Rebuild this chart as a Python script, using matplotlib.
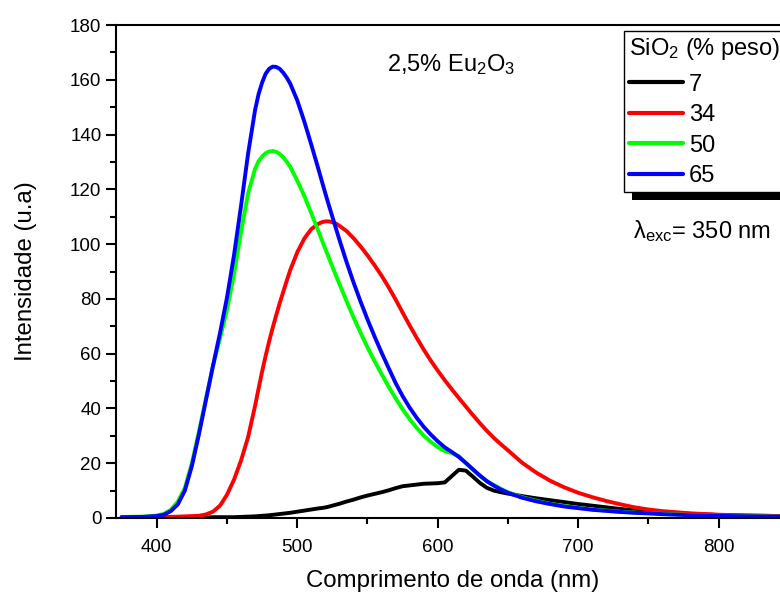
import matplotlib
matplotlib.use("Agg")
from matplotlib import pyplot as plt
from matplotlib.patches import Rectangle
from matplotlib.transforms import IdentityTransform

plt.rcParams['font.family'] = ['Liberation Sans', 'DejaVu Sans']
plt.rcParams['mathtext.default'] = 'regular'

# comprimento de onda (nm)
wl = [375, 390, 400, 405, 410, 415, 420, 425, 430, 435, 440, 445, 450, 455,
      460, 465, 470, 472.5, 475, 477.5, 480, 482.5, 485, 487.5, 490, 492.5, 495,
      500, 505, 510, 515, 517.5, 520, 522.5, 525, 527.5, 530, 535, 540, 545, 550,
      555, 560, 565, 570, 575, 580, 585, 590, 595, 600, 605, 610, 615, 620, 625,
      630, 635, 640, 645, 650, 660, 670, 680, 690, 700, 710, 720, 730, 740, 750,
      760, 780, 800, 820, 845]

# SiO2 7 % peso
s7 = [0.2, 0.2, 0.2, 0.2, 0.2, 0.2, 0.2, 0.2, 0.2, 0.2, 0.3, 0.3, 0.3, 0.3,
      0.4, 0.5, 0.6, 0.7, 0.8, 0.9, 1.0, 1.15, 1.3, 1.45, 1.6, 1.75, 1.9,
      2.3, 2.7, 3.1, 3.5, 3.65, 3.85, 4.15, 4.5, 4.85, 5.2, 6.0, 6.7, 7.5, 8.2,
      8.8, 9.4, 10.1, 10.9, 11.6, 11.9, 12.2, 12.5, 12.6, 12.7, 13.0, 15.3, 17.6, 17.3, 15.1,
      12.8, 11.0, 10.0, 9.4, 8.9, 8.0, 7.2, 6.5, 5.8, 5.1, 4.5, 3.9, 3.3, 2.8, 2.4,
      2.0, 1.5, 1.1, 0.9, 0.7]

# SiO2 34 % peso
s34 = [0.2, 0.2, 0.3, 0.3, 0.4, 0.5, 0.6, 0.7, 0.8, 1.3, 2.3, 4.5, 8.5, 14.0,
       21.0, 29.5, 41.0, 47.3, 53.5, 59.2, 64.5, 69.4, 74.0, 78.4, 82.5, 86.6, 90.5,
       97.0, 102.0, 105.5, 107.4, 108.0, 108.3, 108.3, 108.0, 107.5, 106.7, 104.8, 102.2, 99.2, 95.9,
       92.3, 88.5, 84.3, 79.8, 75.0, 70.3, 65.8, 61.5, 57.5, 53.8, 50.3, 47.0, 43.8, 40.7, 37.6,
       34.6, 31.8, 29.2, 26.9, 24.7, 20.2, 16.6, 13.6, 11.2, 9.2, 7.6, 6.2, 5.0, 3.9, 3.1,
       2.5, 1.7, 1.2, 0.9, 0.7]

# SiO2 50 % peso
s50 = [0.4, 0.5, 0.9, 1.5, 3.0, 6.0, 11.0, 20.0, 31.5, 43.5, 55.5, 65.5, 76.0, 89.0,
       104.5, 118.5, 127.5, 130.3, 132.0, 133.2, 133.8, 134.0, 133.7, 132.9, 131.7, 130.1, 128.2,
       123.2, 117.6, 111.3, 104.8, 101.5, 98.2, 95.0, 91.8, 88.6, 85.5, 79.3, 73.3, 67.7, 62.3,
       57.3, 52.6, 48.0, 43.7, 39.7, 36.1, 32.9, 30.1, 27.8, 25.9, 24.4, 23.7, 22.6, 20.1, 17.6,
       15.4, 13.5, 12.0, 10.6, 9.4, 7.6, 6.3, 5.2, 4.4, 3.7, 3.1, 2.7, 2.3, 2.0, 1.7,
       1.5, 1.1, 0.8, 0.6, 0.5]

# SiO2 65 % peso
s65 = [0.3, 0.4, 0.7, 1.2, 2.5, 5.0, 10.0, 19.0, 30.5, 43.0, 55.5, 67.5, 80.5, 96.0,
       114.0, 133.0, 149.0, 154.8, 159.0, 162.2, 164.0, 164.8, 164.7, 164.0, 162.6, 160.8, 158.6,
       152.5, 144.8, 136.3, 127.5, 123.0, 118.5, 114.2, 110.0, 105.8, 101.6, 93.6, 86.1, 79.1, 72.5,
       66.3, 60.4, 54.8, 49.3, 44.5, 40.3, 36.6, 33.3, 30.5, 28.0, 25.8, 24.1, 22.3, 20.1, 17.8,
       15.5, 13.4, 11.8, 10.4, 9.2, 7.4, 6.1, 5.1, 4.2, 3.6, 3.0, 2.6, 2.2, 1.9, 1.7,
       1.4, 1.0, 0.8, 0.6, 0.5]

series = [("7", s7, "#000000"), ("34", s34, "#ff0000"),
          ("50", s50, "#00ff00"), ("65", s65, "#0000ff")]

fig = plt.figure(figsize=(7.8, 5.92), dpi=100)
ax = fig.add_axes([116 / 780, 74 / 592, 673 / 780, 493 / 592])

for lab, vals, cor in series:
    ax.plot(wl, vals, color=cor, lw=2.8, label=lab,
            solid_capstyle='round', solid_joinstyle='round')

ax.set_xlim(371, 850)
ax.set_ylim(0, 180)
ax.set_xticks([400, 500, 600, 700, 800])
ax.set_xticks(range(400, 850, 50), minor=True)
ax.set_yticks(range(0, 181, 20))
ax.set_yticks(range(0, 181, 10), minor=True)
ax.tick_params(which='major', direction='out', length=7, width=1.5, labelsize=13.5)
ax.tick_params(which='minor', direction='out', length=4, width=1.5)
ax.tick_params(axis='x', pad=8)
for sp in ax.spines.values():
    sp.set_linewidth(1.5)

ax.set_xlabel("Comprimento de onda (nm)", fontsize=17.3, labelpad=10)
ax.set_ylabel("Intensidade (u.a)", fontsize=17.3, labelpad=24)

fig.text(387 / 780, 1 - 71 / 592, "2,5% Eu$_2$O$_3$", fontsize=17, va='baseline')
fig.text(633 / 780, 1 - 238 / 592, "λ$_{exc}$= 350 nm", fontsize=17, va='baseline')

leg = ax.legend(title="SiO$_2$ (% peso)", loc='upper left',
                bbox_to_anchor=(624 / 780, 1 - 31 / 592), bbox_transform=fig.transFigure,
                borderaxespad=0, borderpad=0.2, fontsize=17, title_fontsize=17,
                handlelength=2.3, handletextpad=0.25, labelspacing=0.36,
                fancybox=False, edgecolor='black', framealpha=1, alignment='left')
leg.get_frame().set_linewidth(1.0)
leg._legend_box.sep = 8.5
for ln in leg.get_lines():
    ln.set_linewidth(3)

# sombra preta da legenda
fig.canvas.draw()
bb = leg.get_frame().get_window_extent()
sombra = Rectangle((bb.x0 + 8, bb.y0 - 8), bb.width, bb.height, facecolor='black',
                   edgecolor='none', transform=IdentityTransform(), zorder=4.9, clip_on=False)
ax.add_artist(sombra)

fig.savefig("out.png", dpi=100)
